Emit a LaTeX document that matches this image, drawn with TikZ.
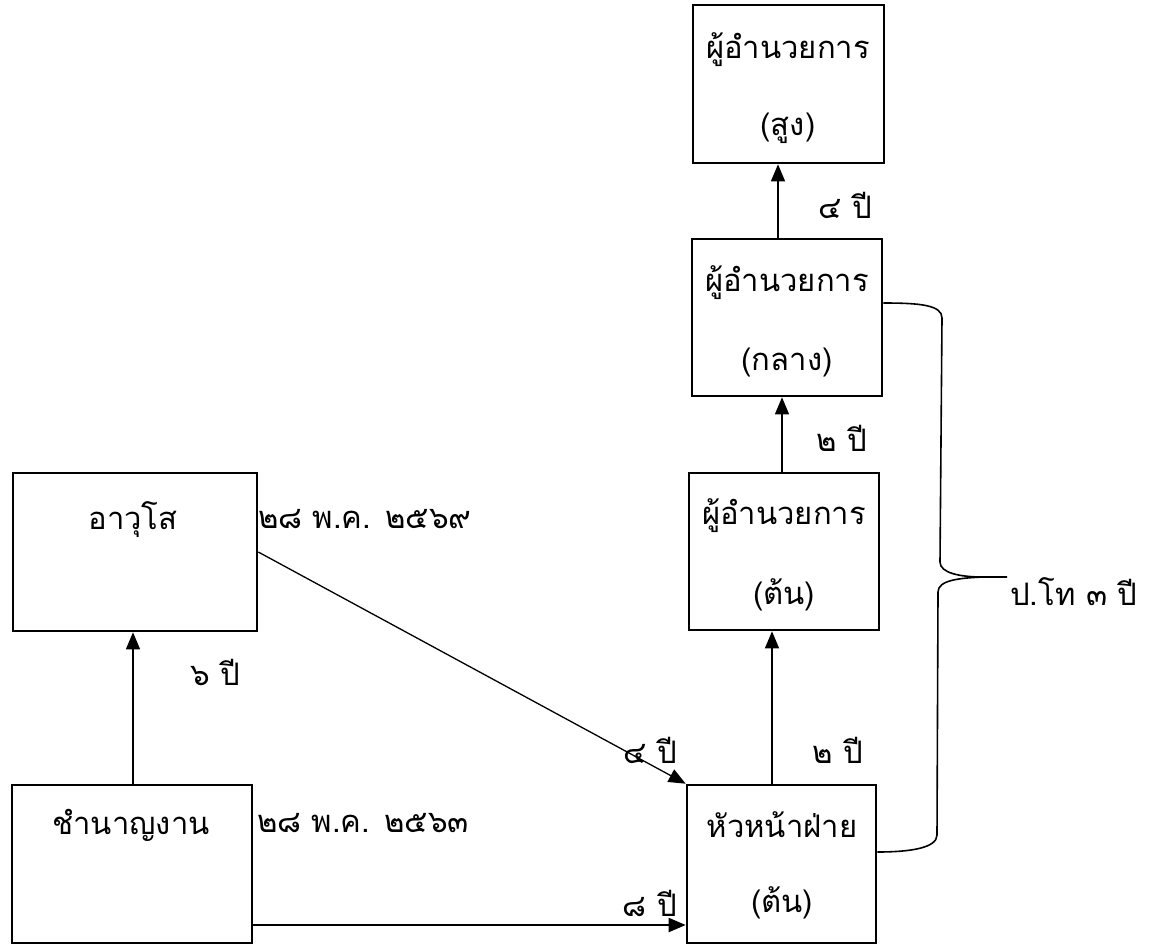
\documentclass[tikz,border=0pt]{standalone}
\usepackage{fontspec}
\newfontfamily\thaifont[Script=Thai]{Loma}
\usetikzlibrary{arrows.meta,calc}
\tikzset{
  box/.style={draw, line width=2.6pt, rectangle, inner sep=0pt},
  txt/.style={font=\thaifont\fontsize{31}{36}\selectfont, inner sep=0pt, anchor=center},
  lbl/.style={font=\thaifont\fontsize{31}{36}\selectfont, inner sep=0pt},
  arr/.style={line width=1.3pt, -{Triangle[length=17pt,width=14pt]}},
  brace/.style={line width=1.6pt}
}
\begin{document}
\begin{tikzpicture}[x=1pt,y=-1pt]
\useasboundingbox (0,0) rectangle (1156,946);
% boxes
\node[box, minimum width=191pt, minimum height=158pt] (top) at (788.5,84) {};
\node[box, minimum width=190pt, minimum height=157pt] (mid) at (787,317.5) {};
\node[box, minimum width=190pt, minimum height=157pt] (low) at (784,551.5) {};
\node[box, minimum width=189pt, minimum height=158pt] (head) at (781.5,864) {};
\node[box, minimum width=240pt, minimum height=158pt] (cham) at (132,864) {};
\node[box, minimum width=244pt, minimum height=158pt] (senior) at (135,552) {};
% box texts
\node[txt] (topa) at (788,50) {ผู้อำนวยการ};
\node[txt] (topb) at (788,128) {(สูง)};
\node[txt] (mida) at (787,283) {ผู้อำนวยการ};
\node[txt] (midb) at (787,362) {(กลาง)};
\node[txt] (lowa) at (784,516) {ผู้อำนวยการ};
\node[txt] (lowb) at (784,595) {(ต้น)};
\node[txt] (heada) at (782,825) {หัวหน้าฝ่าย};
\node[txt] (headb) at (782,903) {(ต้น)};
\node[txt] (chama) at (131,825) {ชำนาญงาน};
\node[txt] (seniora) at (133,520) {อาวุโส};
% labels
\node[lbl, anchor=center] (l1) at (845,205) {๔ ปี};
\node[lbl, anchor=center] (l2) at (842,438) {๒ ปี};
\node[lbl, anchor=center] (l3) at (838,750) {๒ ปี};
\node[lbl, anchor=center] (l4) at (650,750) {๔ ปี};
\node[lbl, anchor=center] (l5) at (650,903) {๘ ปี};
\node[lbl, anchor=center] (l6) at (215,672) {๖ ปี};
\node[lbl, anchor=west] (d1) at (258,519) {๒๘ พ.ค. ๒๕๖๙};
\node[lbl, anchor=west] (d2) at (257,823) {๒๘ พ.ค. ๒๕๖๓};
\node[lbl, anchor=west] (pt) at (1010,592) {ป.โท ๓ ปี};
% connector x positions
\coordinate (xa) at (778,0);
\coordinate (xb) at (782,0);
\coordinate (xc) at (772,0);
\coordinate (xd) at (133,0);
\coordinate (ya) at (0,925);
% arrows
\draw[arr] (mid.north -| xa) -- (top.south -| xa);
\draw[arr] (low.north -| xb) -- (mid.south -| xb);
\draw[arr] (head.north -| xc) -- (low.south -| xc);
\draw[arr] (cham.north -| xd) -- (senior.south -| xd);
\draw[arr, line width=2pt] (cham.east |- ya) -- (head.west |- ya);
\draw[arr] (senior.east) -- (head.north west);
% brace
\coordinate (b1) at ($(mid.east)+(0,-14.5)$);
\coordinate (b2) at ($(head.east)+(0,-12)$);
\coordinate (tip) at (983,577);
\coordinate (tipend) at (1007,577);
\draw[brace] (b1) .. controls (920,303) and (942,305) .. (942,318) -- (940,562)
  .. controls (940,573) and (960,577) .. (tip) -- (tipend);
\draw[brace] (tip) .. controls (960,578) and (938,580) .. (938,592) -- (937,835)
  .. controls (937,848) and (910,852) .. (b2);
\end{tikzpicture}
\end{document}
